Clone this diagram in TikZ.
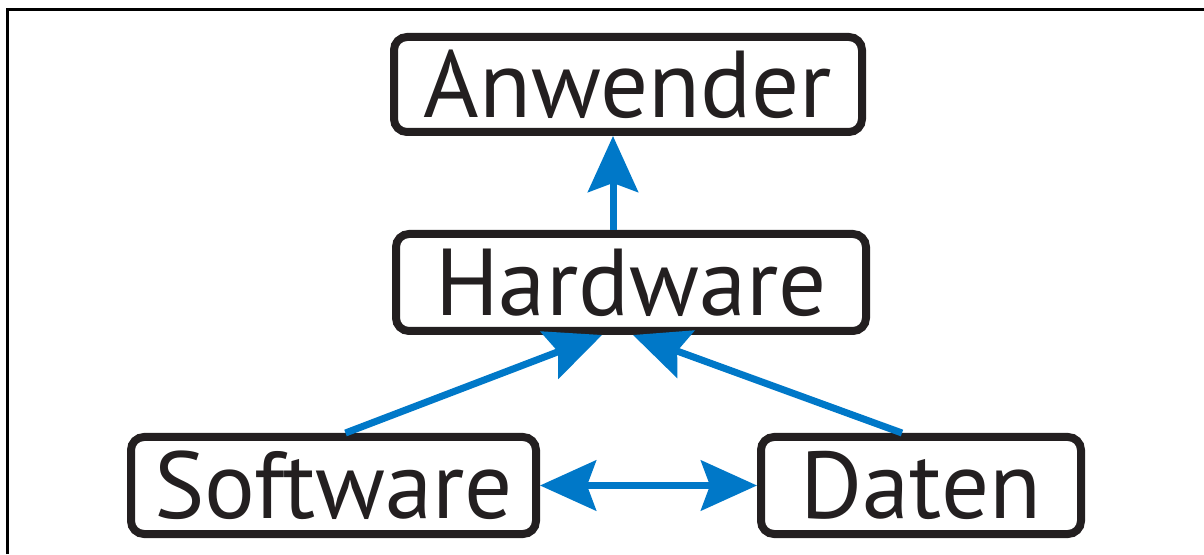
\documentclass[tikz,border=0pt]{standalone}
\usepackage{fontspec}
\setmainfont{PT Sans}
\usetikzlibrary{arrows.meta,positioning}
\definecolor{arrowblue}{RGB}{0,120,200}
\definecolor{boxblack}{RGB}{35,31,32}
\tikzset{bighead/.tip={Stealth[length=56pt,width=50pt,inset=9pt]},box/.style={draw=boxblack,line width=8pt,rounded corners=13pt,minimum height=97pt,text=boxblack,font=\fontsize{95}{100}\selectfont,inner sep=0pt},arrow/.style={-bighead,line width=7pt,draw=arrowblue,fill=arrowblue},twoway/.style={bighead-bighead,line width=7pt,draw=arrowblue,fill=arrowblue},frame/.style={line width=3pt,draw=black}}

\begin{document}
\begin{tikzpicture}[x=1pt,y=1pt]
\useasboundingbox (0,0) rectangle (1204,554);
\draw[frame] (7,0) |- (1204,544);
\node[box,minimum width=468pt,minimum height=95pt] (anwender) at (628,469.5) {Anwender};
\node[box,minimum width=470pt] (hardware) at (631,271.5) {Hardware};
\node[box,minimum width=405pt] (software) at (333.5,68.5) {Software};
\node[box,minimum width=320pt] (daten) at (921,68.5) {Daten};
\draw[arrow] ([xshift=-18pt]hardware.north) -- ([xshift=-15pt]anwender.south);
\draw[arrow] ([xshift=12pt]software.north) -- ([xshift=-29pt]hardware.south);
\draw[arrow] ([xshift=-19pt]daten.north) -- ([xshift=2pt]hardware.south);
\draw[twoway] (software) -- (daten);
\end{tikzpicture}
\end{document}
